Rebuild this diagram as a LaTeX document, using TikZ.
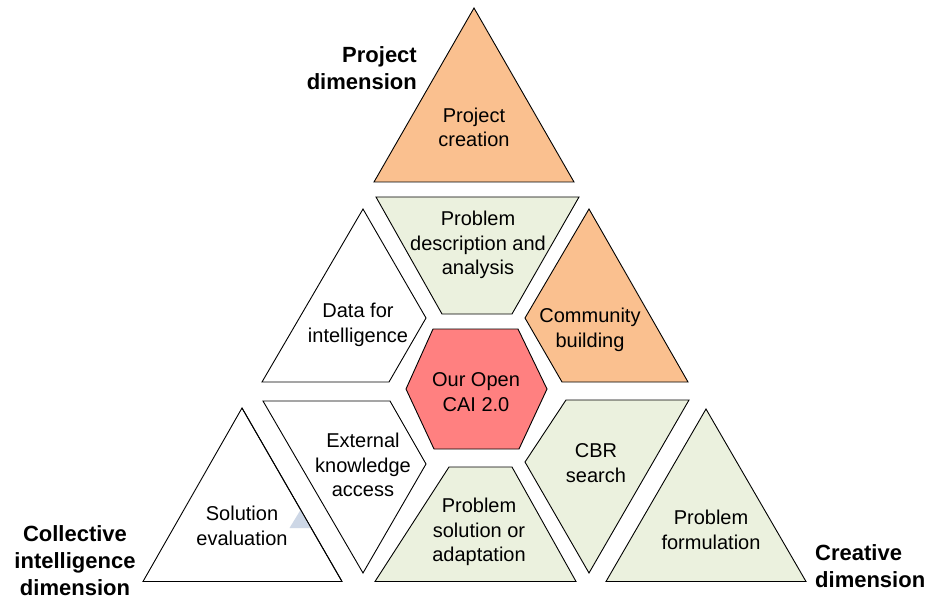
\documentclass[tikz,border=0pt]{standalone}
\usepackage{fontspec}
\setmainfont{Liberation Sans}
\definecolor{peach}{RGB}{250,192,143}
\definecolor{sage}{RGB}{235,241,222}
\definecolor{salmon}{RGB}{255,128,128}
\definecolor{bluegrey}{RGB}{205,215,230}
\begin{document}
\begin{tikzpicture}[x=1pt,y=-1pt,
  tile/.style={draw=black,line width=0.9pt,line join=miter},
  lbl/.style={align=center,font=\fontsize{20}{24.5}\selectfont,inner sep=0pt},
  dim/.style={font=\fontsize{22}{27}\selectfont\bfseries,inner sep=0pt}]
\useasboundingbox (0,0) rectangle (927,599);
% tiles
\draw[tile,fill=peach] (474,8) -- (574,182) -- (374,182) -- cycle;
\draw[tile,fill=sage] (376,197) -- (579,197) -- (512,314) -- (442,314) -- cycle;
\draw[tile,fill=white] (363,209) -- (426,318) -- (389,382) -- (262,382) -- cycle;
\draw[tile,fill=peach] (589,209) -- (688,382) -- (562,382) -- (525,318) -- cycle;
\draw[tile,fill=salmon] (433,329) -- (518,329) -- (547,389) -- (519,449) -- (434,449) -- (406,389) -- cycle;
\draw[tile,fill=white] (263,401) -- (390,401) -- (426,464) -- (363,573) -- cycle;
\draw[tile,fill=sage] (566,400) -- (689,400) -- (589,573) -- (525,462) -- cycle;
\draw[tile,fill=sage] (449,467) -- (512,467) -- (576,581.5) -- (375,581.5) -- cycle;
\draw[tile,fill=white] (242,408) -- (342,581.5) -- (143,581.5) -- cycle;
\draw[tile,fill=sage] (706,409) -- (806,581.5) -- (606,581.5) -- cycle;
\fill[bluegrey] (289.5,528) -- (311,528) -- (300.5,510) -- cycle;
\draw[line width=0.9pt] (242,408) -- (342,581.5);
% labels
\node[lbl] (pc) at (474,127.5) {Project\\creation};
\node[lbl] (pd) at (478,245) {Problem\\description and\\analysis};
\node[lbl] (di) at (358,325) {Data for\\intelligence};
\node[lbl] (cb) at (590,330) {Community\\building};
\node[lbl] (oc) at (476,392) {Our Open\\CAI 2.0};
\node[lbl] (ek) at (363,465) {External\\knowledge\\access};
\node[lbl] (cs) at (596,463) {CBR\\search};
\node[lbl] (ps) at (479,532) {Problem\\solution or\\adaptation};
\node[lbl] (se) at (242,526) {Solution\\evaluation};
\node[lbl] (pf) at (711,530) {Problem\\formulation};
\node[dim,align=right,anchor=east] (pdim) at (417,68.5) {Project\\dimension};
\node[dim,align=center] (cdim) at (75,561) {Collective\\intelligence\\dimension};
\node[dim,align=left,anchor=west] (crdim) at (815,566.5) {Creative\\dimension};
\end{tikzpicture}
\end{document}
